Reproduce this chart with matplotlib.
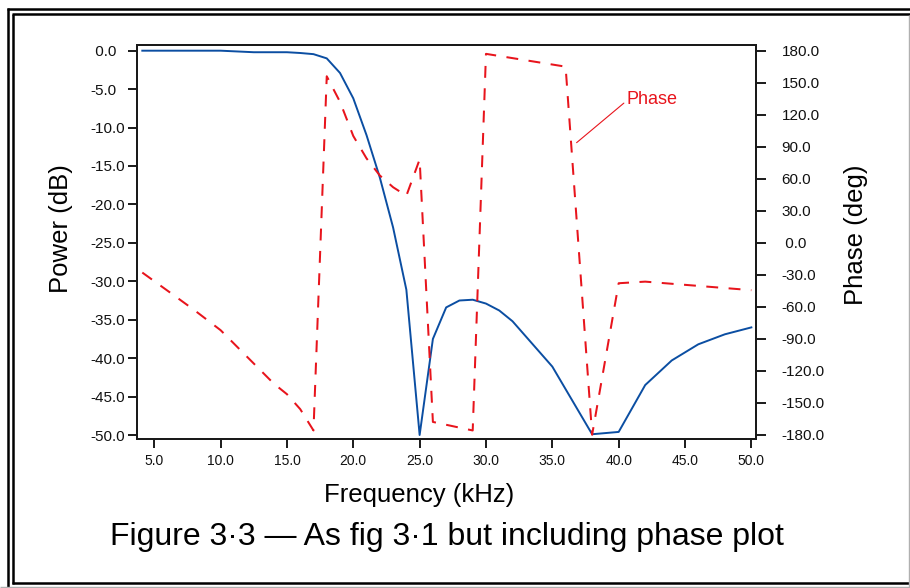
import matplotlib
matplotlib.use('Agg')
import matplotlib.pyplot as plt
from matplotlib.lines import Line2D

# ---------------- data ----------------
freq_power = [4.1, 10, 12.5, 15, 16, 17, 18, 19, 20, 21, 22, 23, 24, 25, 26, 27,
              28, 29, 30, 31, 32, 35, 38, 40, 42, 44, 46, 48, 50]
power_db = [0.0, 0.0, -0.2, -0.2, -0.3, -0.45, -1.0, -2.9, -6.2, -11.0, -16.5,
            -23.0, -31.1, -50.0, -37.5, -33.4, -32.5, -32.4, -32.9, -33.8, -35.2,
            -41.1, -49.9, -49.6, -43.5, -40.3, -38.2, -36.9, -36.0]

freq_phase = [4.1, 6, 8, 10, 12, 14, 15, 16, 17, 18, 19, 20, 21, 22, 23, 24, 25,
              26, 29, 30, 36, 38, 40, 42, 50]
phase_deg = [-28, -45, -63, -82, -107, -132, -142, -156, -176, 156, 132, 100, 79,
             63, 52, 44, 78, -168, -176, 177, 165, -180, -38, -36.5, -44.5]

x_ticks = [5, 10, 15, 20, 25, 30, 35, 40, 45, 50]
x_tick_labels = ["5.0", "10.0", "15.0", "20.0", "25.0", "30.0", "35.0", "40.0",
                 "45.0", "50.0"]
power_ticks = [0, -5, -10, -15, -20, -25, -30, -35, -40, -45, -50]
power_tick_labels = [" 0.0", "-5.0", "-10.0", "-15.0", "-20.0", "-25.0", "-30.0",
                     "-35.0", "-40.0", "-45.0", "-50.0"]
phase_ticks = [180, 150, 120, 90, 60, 30, 0, -30, -60, -90, -120, -150, -180]
phase_tick_labels = ["180.0", "150.0", "120.0", "90.0", "60.0", "30.0", " 0.0",
                     "-30.0", "-60.0", "-90.0", "-120.0", "-150.0", "-180.0"]

x_label = "Frequency (kHz)"
left_label = "Power (dB)"
right_label = "Phase (deg)"
annot_text = "Phase"
caption = "Figure 3\u00b73 \u2014 As fig 3\u00b71 but including phase plot"

# ---------------- style ----------------
plt.rcParams['font.family'] = ['Liberation Sans', 'DejaVu Sans']
BLUE = '#0b4ea2'
RED = '#e8141c'
SPINE = '#1a1a1a'

W, H = 910, 588
fig = plt.figure(figsize=(W / 100, H / 100), dpi=100)
fig.patch.set_facecolor('white')


def fx(x):
    return x / W


def fy(y):
    return 1 - y / H


ax = fig.add_axes([fx(137), fy(439), fx(756) - fx(137), fy(45) - fy(439)])
ax2 = ax.twinx()

ax.plot(freq_power, power_db, color=BLUE, lw=1.4, zorder=3)
ax2.plot(freq_phase, phase_deg, color=RED, lw=1.45, dashes=(5.9, 5.2), zorder=3)

ax.set_xlim(3.7, 50.35)
ax.set_ylim(-50.52, 0.74)
ax2.set_ylim(-184.0, 185.3)

ax.set_xticks(x_ticks)
ax.set_xticklabels(x_tick_labels, fontsize=10)
ax.set_yticks(power_ticks)
ax.set_yticklabels(power_tick_labels, fontsize=11)
for lab in ax.get_yticklabels():
    lab.set_ha('left')
ax2.set_yticks(phase_ticks)
ax2.set_yticklabels(phase_tick_labels, fontsize=11)

ax.tick_params(axis='x', direction='out', length=6.5, width=1.4, pad=4, colors=SPINE)
ax.tick_params(axis='y', direction='out', length=6.5, width=1.4, pad=26.9, colors=SPINE)
ax2.tick_params(axis='y', direction='out', length=7, width=1.4, pad=11.3, colors=SPINE)
for a in (ax, ax2):
    for s in a.spines.values():
        s.set_linewidth(1.4)
        s.set_color(SPINE)
    for lab in a.get_xticklabels() + a.get_yticklabels():
        lab.set_color('#111111')

ax2.annotate(annot_text, xy=(36.83, 93.75), xytext=(40.6, 133.8),
             color=RED, fontsize=13, ha='left', va='center',
             arrowprops=dict(arrowstyle='-', color=RED, lw=0.8,
                             shrinkA=0, shrinkB=0, relpos=(0, 0.45)))

fig.text(fx(61), fy(229), left_label, rotation=90, fontsize=18.5,
         ha='center', va='center')
fig.text(fx(856), fy(235), right_label, rotation=90, fontsize=18.5,
         ha='center', va='center')
fig.text(fx(419), fy(495), x_label, fontsize=18.5, ha='center', va='center')
fig.text(fx(447), fy(537), caption, fontsize=23, ha='center', va='center')

# ---------------- frame ----------------
def hline(y, x0, x1, lw, color='black'):
    fig.add_artist(Line2D([fx(x0), fx(x1)], [fy(y), fy(y)], lw=lw, color=color,
                          transform=fig.transFigure, solid_capstyle='butt'))


def vline(x, y0, y1, lw, color='black'):
    fig.add_artist(Line2D([fx(x), fx(x)], [fy(y0), fy(y1)], lw=lw, color=color,
                          transform=fig.transFigure, solid_capstyle='butt'))


hline(9, 7, 910, 1.8)
vline(8.3, 8, 588, 1.8)
hline(14.3, 12, 910, 1.8)
vline(13, 13.5, 584, 1.8)
hline(583, 12, 910, 1.8)
hline(587, 0, 910, 1.0, '#b0b0b0')
vline(909, 15, 588, 1.0, '#b0b0b0')

fig.savefig('out.png', dpi=100, facecolor='white')
